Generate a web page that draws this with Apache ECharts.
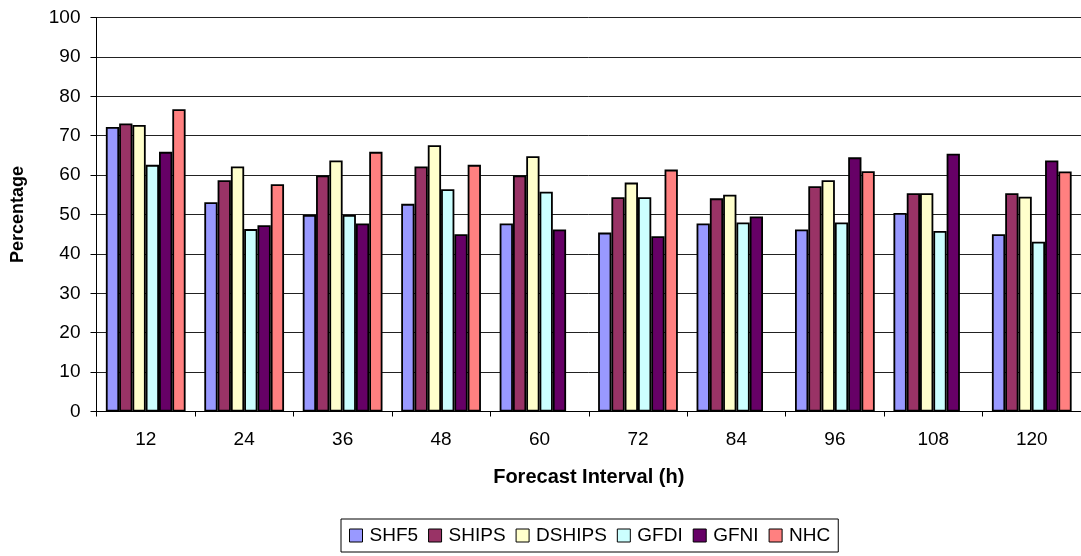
<!DOCTYPE html>
<html>
<head>
<meta charset="utf-8">
<title>Forecast Interval Percentages</title>
<script src="https://cdn.jsdelivr.net/npm/echarts@6/dist/echarts.min.js"></script>
<style>
  html, body { margin: 0; padding: 0; background: #fff; }
  #chart { width: 1081px; height: 556px; }
</style>
</head>
<body>
<div id="chart"></div>
<script>
// Forecast intervals (hours)
const categories = ['12', '24', '36', '48', '60', '72', '84', '96', '108', '120'];

// Percentage per model at each forecast interval (null = no value)
const shf5   = [72.2, 53.1, 49.9, 52.7, 47.7, 45.4, 47.7, 46.2, 50.4, 45.0];
const ships  = [73.1, 58.7, 59.9, 62.2, 59.9, 54.4, 54.1, 57.2, 55.4, 55.4];
const dships = [72.7, 62.2, 63.7, 67.6, 64.8, 58.1, 55.0, 58.7, 55.4, 54.5];
const gfdi   = [62.6, 46.3, 49.9, 56.4, 55.8, 54.4, 48.0, 48.0, 45.8, 43.1];
const gfni   = [65.9, 47.3, 47.7, 45.0, 46.2, 44.5, 49.5, 64.5, 65.4, 63.7];
const nhc    = [76.7, 57.7, 65.9, 62.6, null, 61.4, null, 61.0, null, 60.9];

const seriesNames = ['SHF5', 'SHIPS', 'DSHIPS', 'GFDI', 'GFNI', 'NHC'];
const seriesData = [shf5, ships, dships, gfdi, gfni, nhc];
const seriesColors = ['#9999FF', '#993366', '#FFFFCC', '#CCFFFF', '#660066', '#FF8080'];

const FONT = '"Liberation Sans", Arial, sans-serif';

const chart = echarts.init(document.getElementById('chart'), null, { renderer: 'canvas' });

chart.setOption({
  animation: false,
  backgroundColor: '#fff',
  textStyle: { fontFamily: FONT, color: '#000' },
  grid: { left: 96.5, top: 17.5, width: 990, height: 394, containLabel: false },
  legend: {
    data: seriesNames,
    left: 341,
    top: 519,
    padding: [7, 8, 7, 8],
    borderColor: '#000',
    borderWidth: 1,
    itemWidth: 13,
    itemHeight: 13,
    itemGap: 10,
    icon: 'rect',
    itemStyle: { borderColor: '#000', borderWidth: 1 },
    textStyle: { fontFamily: FONT, fontSize: 19, color: '#000', padding: [0, 0, 0, 2] }
  },
  xAxis: {
    type: 'category',
    data: categories,
    name: 'Forecast Interval (h)',
    nameLocation: 'middle',
    nameGap: 56,
    nameTextStyle: { fontFamily: FONT, fontSize: 20, fontWeight: 'bold', color: '#000' },
    axisLine: { lineStyle: { color: '#000', width: 1 } },
    axisTick: { show: true, length: 5, lineStyle: { color: '#000' } },
    axisLabel: { fontFamily: FONT, fontSize: 19, color: '#000', margin: 19 }
  },
  yAxis: {
    type: 'value',
    min: 0,
    max: 100,
    interval: 10,
    name: 'Percentage',
    nameLocation: 'middle',
    nameRotate: 90,
    nameGap: 69,
    nameTextStyle: { fontFamily: FONT, fontSize: 18, fontWeight: 'bold', color: '#000' },
    axisLine: { show: true, lineStyle: { color: '#000', width: 1 } },
    axisTick: { show: true, length: 6, lineStyle: { color: '#000' } },
    axisLabel: { fontFamily: FONT, fontSize: 19, color: '#000', margin: 16 },
    splitLine: { show: true, lineStyle: { color: '#222', width: 1 } }
  },
  series: seriesNames.map((name, i) => ({
    name: name,
    type: 'bar',
    data: seriesData[i],
    barGap: '0%',
    barCategoryGap: '19%',
    itemStyle: { color: seriesColors[i], borderColor: '#000', borderWidth: 1.8 }
  }))
});
</script>
</body>
</html>
